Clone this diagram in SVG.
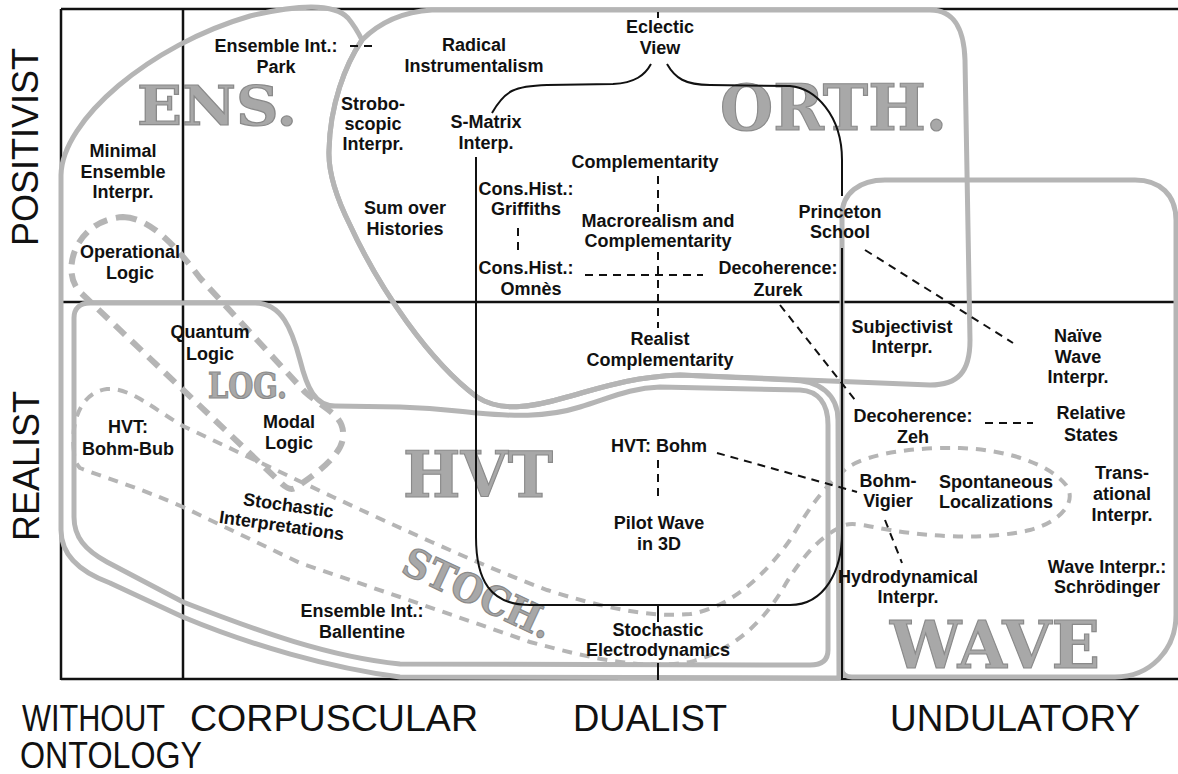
<svg xmlns="http://www.w3.org/2000/svg" width="1178" height="774" viewBox="0 0 1178 774">
<style>
.frame{stroke:#111;stroke-width:2.5;fill:none}
.gray{stroke:#b5b5b5;stroke-width:5;fill:none;stroke-linejoin:round}
.dlog{stroke:#b5b5b5;stroke-width:6;fill:none;stroke-dasharray:14 9}
.dsto{stroke:#b5b5b5;stroke-width:4;fill:none;stroke-dasharray:10 8}
.bl{stroke:#111;stroke-width:2;fill:none}
.dash{stroke:#111;stroke-width:2;fill:none;stroke-dasharray:8 6}
.big{font-family:"DejaVu Serif","Liberation Serif",serif;font-weight:bold;fill:#a8a8a8;stroke:#8a8a8a;stroke-width:1.2}
.lbl{font-family:"Liberation Sans",Arial,sans-serif;font-weight:bold;font-size:18px;fill:#111;text-anchor:middle}
.axis{font-family:"Liberation Sans",Arial,sans-serif;font-size:36px;fill:#111}
</style>
<rect width="1178" height="774" fill="#fff"/>
<g id="frame">
<path class="frame" d="M61,9 H1178 M61,302 H1178 M61,679 H1178 M61,9 V680 M183,9 V680"/>
</g>
<g id="regions">
<path id="hvt-region" class="gray" d="M90,303 L255,303 C282,303 292,330 300,360 C307,388 315,406 335,406 L400,407 C440,408 455,411 477,413 C510,416 545,418 580,407 C610,398 630,388 660,387 L800,390 C818,391 828,403 828,425 L828,650 C828,660 822,665 810,665 L400,664 C330,657 260,632 183,602 L107,562 C85,550 74,537 74,517 L74,318 C74,308 80,303 90,303 Z"/>
<path id="ens-region" class="gray" d="M61,530 L61,175 C62,120 150,45 250,16 C300,4 335,4 348,18 C353,24 358,32 362,40 C345,65 330,105 329,150 C328,172 335,195 350,225 C380,290 430,362 477,397 C500,412 530,408 567,397 C600,388 630,377 680,375 L790,380 C820,380 838,395 838,420 L839,678 L400,677 C330,668 250,645 183,617 L110,583 C80,572 61,555 61,530 Z"/>
<path id="orth-region" class="gray" d="M432,10 L930,10 C955,10 964,30 965,60 L970,340 C970,372 958,385 930,385 L680,375 C630,377 600,388 567,397 C530,408 500,412 477,397 C430,362 380,290 350,225 C335,195 328,172 329,150 C330,105 345,65 362,40 C377,25 400,12 432,10 Z"/>
<path id="wave-region" class="gray" d="M842,670 L842,215 C842,193 860,180 885,180 L1135,180 C1160,180 1176,195 1176,220 L1176,615 C1176,650 1150,677 1115,677 L852,677 C846,677 842,674 842,670 Z"/>
<path id="log-region" class="dlog" d="M123,217 C150,218 175,245 200,278 L305,392 C325,410 345,415 343,437 C342,455 315,475 295,488 C290,491 285,487 280,482 L80,292 C60,272 75,220 123,217 Z"/>
<path id="stoch-region" class="dsto" d="M74,452 C70,420 82,392 107,389 C130,387 155,410 183,426 L333,497 C400,528 480,565 547,590 C600,607 650,618 690,614 C730,608 765,575 790,540 C805,515 820,490 847,468 C870,452 920,447 960,448 C1010,450 1050,465 1066,485 C1078,502 1060,522 1030,530 C990,540 930,537 890,530 C870,527 855,522 845,525 C820,535 800,560 785,585 C765,620 735,650 690,662 C640,670 590,658 530,642 L400,597 L300,563 L183,507 C140,488 100,476 80,468 C76,464 74,458 74,452 Z"/>
</g>
<g id="region-labels">
<text class="big" x="137" y="125" font-size="55" textLength="160" lengthAdjust="spacingAndGlyphs">ENS.</text>
<text class="big" x="720" y="130" font-size="64" textLength="227" lengthAdjust="spacingAndGlyphs">ORTH.</text>
<text class="big" x="403" y="497" font-size="64" textLength="150" lengthAdjust="spacingAndGlyphs">HVT</text>
<text class="big" x="890" y="668" font-size="66" textLength="210" lengthAdjust="spacingAndGlyphs">WAVE</text>
<text class="big" x="208" y="398" font-size="36" textLength="79" lengthAdjust="spacingAndGlyphs">LOG.</text>
<text class="big" transform="translate(478,593) rotate(25)" x="-80" y="14" font-size="40" textLength="160" lengthAdjust="spacingAndGlyphs">STOCH.</text>
</g>
<g id="connectors">
<path class="bl" d="M476,157 L476,537 C476,580 490,605 530,605 L790,605 C825,605 842,570 842,533"/>
<path class="bl" d="M492,113 C505,90 515,86 547,85 L613,84 C635,83 645,75 651,64"/>
<path class="bl" d="M667,64 C675,78 685,85 710,85 L790,86 C815,88 842,115 842,160 L842,196"/>
<path class="bl" d="M842,248 L842,680"/>
<path class="bl" d="M658,12 V18 M658,605 V622 M658,663 V680"/>
<path class="dash" d="M350,46 H378"/>
<path class="dash" d="M658,176 V212"/>
<path class="dash" d="M658,252 V328"/>
<path class="dash" d="M585,275 H703"/>
<path class="dash" d="M518,228 V250"/>
<path class="dash" d="M658,460 V500"/>
<path class="dash" d="M717,453 L857,492"/>
<path class="dash" d="M885,520 L902,563"/>
<path class="dash" d="M780,305 L855,400"/>
<path class="dash" d="M865,250 L1013,343"/>
<path class="dash" d="M985,423 H1033"/>
</g>
<g id="n-ens-park"><text class="lbl"><tspan x="276" y="52">Ensemble Int.:</tspan><tspan x="276" y="73">Park</tspan></text></g>
<g id="n-radical"><text class="lbl"><tspan x="474" y="51">Radical</tspan><tspan x="474" y="72">Instrumentalism</tspan></text></g>
<g id="n-eclectic"><text class="lbl"><tspan x="660" y="33">Eclectic</tspan><tspan x="660" y="54">View</tspan></text></g>
<g id="n-strobo"><text class="lbl"><tspan x="373" y="110">Strobo-</tspan><tspan x="373" y="130">scopic</tspan><tspan x="373" y="150">Interpr.</tspan></text></g>
<g id="n-smatrix"><text class="lbl"><tspan x="486" y="128">S-Matrix</tspan><tspan x="486" y="149">Interp.</tspan></text></g>
<g id="n-minimal"><text class="lbl"><tspan x="123" y="157">Minimal</tspan><tspan x="123" y="178">Ensemble</tspan><tspan x="123" y="198">Interpr.</tspan></text></g>
<g id="n-compl"><text class="lbl"><tspan x="645" y="168">Complementarity</tspan></text></g>
<g id="n-griffiths"><text class="lbl"><tspan x="526" y="195">Cons.Hist.:</tspan><tspan x="526" y="215">Griffiths</tspan></text></g>
<g id="n-sum"><text class="lbl"><tspan x="405" y="214">Sum over</tspan><tspan x="405" y="235">Histories</tspan></text></g>
<g id="n-macro"><text class="lbl"><tspan x="658" y="227">Macrorealism and</tspan><tspan x="658" y="247">Complementarity</tspan></text></g>
<g id="n-princeton"><text class="lbl"><tspan x="840" y="218">Princeton</tspan><tspan x="840" y="238">School</tspan></text></g>
<g id="n-operational"><text class="lbl"><tspan x="130" y="258">Operational</tspan><tspan x="130" y="279">Logic</tspan></text></g>
<g id="n-omnes"><text class="lbl"><tspan x="526" y="274">Cons.Hist.:</tspan><tspan x="531" y="295">Omnès</tspan></text></g>
<g id="n-zurek"><text class="lbl"><tspan x="778" y="274">Decoherence:</tspan><tspan x="778" y="296">Zurek</tspan></text></g>
<g id="n-realist-compl"><text class="lbl"><tspan x="660" y="345">Realist</tspan><tspan x="660" y="366">Complementarity</tspan></text></g>
<g id="n-subjectivist"><text class="lbl"><tspan x="902" y="333">Subjectivist</tspan><tspan x="902" y="353">Interpr.</tspan></text></g>
<g id="n-naive"><text class="lbl"><tspan x="1078" y="342">Naïve</tspan><tspan x="1078" y="363">Wave</tspan><tspan x="1078" y="383">Interpr.</tspan></text></g>
<g id="n-quantum"><text class="lbl"><tspan x="210" y="338">Quantum</tspan><tspan x="210" y="360">Logic</tspan></text></g>
<g id="n-modal"><text class="lbl"><tspan x="289" y="428">Modal</tspan><tspan x="289" y="449">Logic</tspan></text></g>
<g id="n-bohmbub"><text class="lbl"><tspan x="128" y="433">HVT:</tspan><tspan x="128" y="455">Bohm-Bub</tspan></text></g>
<g id="n-zeh"><text class="lbl"><tspan x="913" y="422">Decoherence:</tspan><tspan x="913" y="443">Zeh</tspan></text></g>
<g id="n-relative"><text class="lbl"><tspan x="1091" y="419">Relative</tspan><tspan x="1091" y="441">States</tspan></text></g>
<g id="n-hvtbohm"><text class="lbl"><tspan x="659" y="452">HVT: Bohm</tspan></text></g>
<g id="n-bohmvigier"><text class="lbl"><tspan x="888" y="487">Bohm-</tspan><tspan x="888" y="507">Vigier</tspan></text></g>
<g id="n-spontaneous"><text class="lbl"><tspan x="996" y="488">Spontaneous</tspan><tspan x="996" y="508">Localizations</tspan></text></g>
<g id="n-transactional"><text class="lbl"><tspan x="1122" y="479">Trans-</tspan><tspan x="1122" y="500">ational</tspan><tspan x="1122" y="521">Interpr.</tspan></text></g>
<g id="n-stochint"><text class="lbl" transform="translate(285,516) rotate(8)"><tspan x="2" y="-5">Stochastic</tspan><tspan x="-2" y="16">Interpretations</tspan></text></g>
<g id="n-pilot"><text class="lbl"><tspan x="659" y="529">Pilot Wave</tspan><tspan x="659" y="550">in 3D</tspan></text></g>
<g id="n-hydro"><text class="lbl"><tspan x="908" y="583">Hydrodynamical</tspan><tspan x="908" y="603">Interpr.</tspan></text></g>
<g id="n-schrodinger"><text class="lbl"><tspan x="1107" y="573">Wave Interpr.:</tspan><tspan x="1107" y="593">Schrödinger</tspan></text></g>
<g id="n-ballentine"><text class="lbl"><tspan x="362" y="617">Ensemble Int.:</tspan><tspan x="362" y="638">Ballentine</tspan></text></g>
<g id="n-sed"><text class="lbl"><tspan x="658" y="636">Stochastic</tspan><tspan x="658" y="656">Electrodynamics</tspan></text></g>
<g id="axes">
<text class="axis" transform="translate(25,147) rotate(-90)" x="0" y="13" text-anchor="middle">POSITIVIST</text>
<text class="axis" transform="translate(26,466) rotate(-90)" x="0" y="13" text-anchor="middle">REALIST</text>
<text class="axis" x="22" y="731" textLength="143" lengthAdjust="spacingAndGlyphs">WITHOUT</text>
<text class="axis" x="190" y="731" textLength="288" lengthAdjust="spacingAndGlyphs">CORPUSCULAR</text>
<text class="axis" x="573" y="731" textLength="154" lengthAdjust="spacingAndGlyphs">DUALIST</text>
<text class="axis" x="890" y="731" textLength="250" lengthAdjust="spacingAndGlyphs">UNDULATORY</text>
<text class="axis" x="20" y="768" textLength="182" lengthAdjust="spacingAndGlyphs">ONTOLOGY</text>
</g>
</svg>
